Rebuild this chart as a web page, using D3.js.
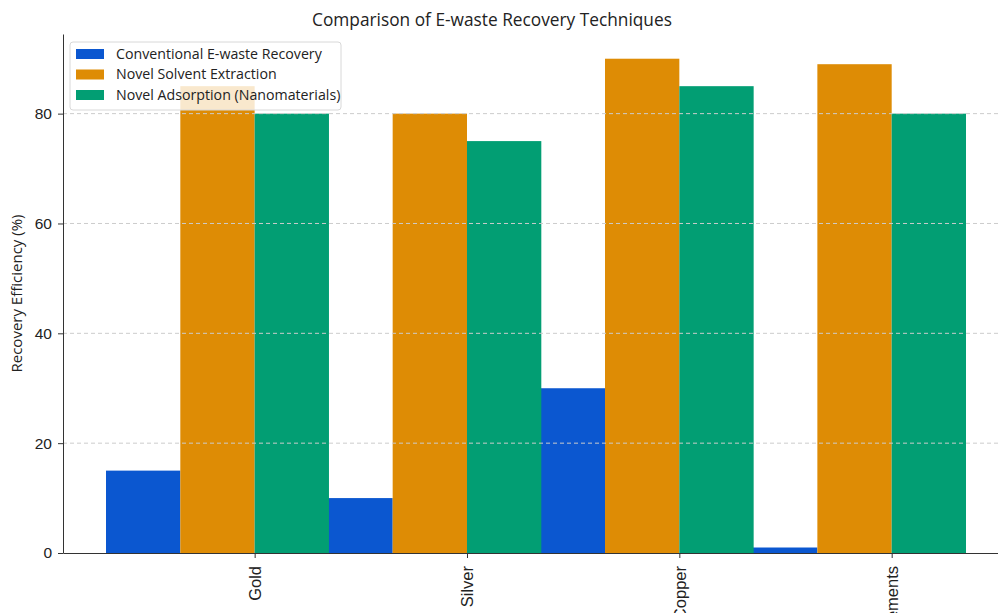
<!DOCTYPE html>
<html>
<head>
<meta charset="utf-8">
<script src="https://cdn.jsdelivr.net/npm/d3@7"></script>
<style>
  body { margin: 0; background: #fff; }
  svg { display: block; font-family: "Open Sans", sans-serif; }
  .grid line { stroke: #cccccc; stroke-dasharray: 4,3; stroke-width: 1; }
  .axis text { font-size: 15.5px; fill: #222; }
  .axis path, .axis line { stroke: #333; }
  .xaxis text { font-size: 16.5px; }
</style>
</head>
<body>
<div id="chart"></div>
<script>
// data
var metals = ["Gold", "Silver", "Copper", "Rare Earth Elements"];
var seriesNames = ["Conventional E-waste Recovery", "Novel Solvent Extraction", "Novel Adsorption (Nanomaterials)"];
var conventional = [15, 10, 30, 1];
var solvent = [85, 80, 90, 89];
var adsorption = [80, 75, 85, 80];
var yTicks = [0, 20, 40, 60, 80];
var colors = ["#0b57d0", "#de8c05", "#029e73"];

var seriesValues = [conventional, solvent, adsorption];

var width = 998, height = 613;
var margin = {left: 63, right: -11, top: 34, bottom: 60};

var svg = d3.select("#chart")
  .append("svg")
  .attr("width", width)
  .attr("height", height);

var plotW = width - margin.left - margin.right,
    plotH = height - margin.top - margin.bottom;

// bar positions: the first series sits 1.5 widths left of the tick
var barW = 0.35;
var offsets = [-1.5, -0.5, 0.5];
var lo = -2 * barW, hi = metals.length - 1 + barW;
var pad = 0.05 * (hi - lo);
var xLin = d3.scaleLinear()
  .domain([lo - pad, hi + pad])
  .range([0, plotW]);

var yScale = d3.scaleLinear()
  .domain([0, 94.5])
  .range([plotH, 0]);

var g = svg.append("g")
  .attr("transform", "translate(" + margin.left + "," + margin.top + ")");

// bars, series by series
seriesValues.forEach(function(vals, s) {
  g.append("g")
    .selectAll("rect")
    .data(vals)
    .enter()
    .append("rect")
    .attr("x", function(d, i) { return xLin(i + offsets[s] * barW - barW / 2); })
    .attr("width", function() { return xLin(barW) - xLin(0); })
    .attr("y", function(d) { return yScale(d); })
    .attr("height", function(d) { return plotH - yScale(d); })
    .attr("fill", colors[s]);
});

// grid on top of the bars
g.append("g")
  .attr("class", "grid")
  .selectAll("line")
  .data(yTicks.slice(1))
  .enter()
  .append("line")
  .attr("x1", 0)
  .attr("x2", plotW)
  .attr("y1", function(d) { return yScale(d); })
  .attr("y2", function(d) { return yScale(d); });

// y axis
var yAxis = g.append("g")
  .attr("class", "axis")
  .call(d3.axisLeft(yScale).tickValues(yTicks).tickSize(5).tickPadding(6).tickSizeOuter(0));
yAxis.select(".domain").attr("stroke", "#444");

// x axis
var xAxis = g.append("g")
  .attr("class", "axis xaxis")
  .attr("transform", "translate(0," + plotH + ")")
  .call(d3.axisBottom(xLin).tickValues(d3.range(metals.length)).tickSize(5).tickSizeOuter(0)
    .tickFormat(function(i) { return metals[i]; }));
xAxis.select(".domain").attr("stroke", "#444");
xAxis.selectAll("text")
  .attr("transform", "rotate(-90)")
  .attr("text-anchor", "end")
  .attr("x", -13)
  .attr("y", 0)
  .attr("dy", "0.35em");

// axis label
svg.append("text")
  .attr("transform", "translate(22," + (margin.top + plotH / 2) + ") rotate(-90)")
  .attr("text-anchor", "middle")
  .style("font-size", "15px")
  .attr("fill", "#222")
  .text("Recovery Efficiency (%)");

// title
svg.append("text")
  .attr("x", 492)
  .attr("y", 26)
  .attr("text-anchor", "middle")
  .style("font-size", "17.3px")
  .attr("fill", "#222")
  .text("Comparison of E-waste Recovery Techniques");

// legend
var legend = svg.append("g")
  .attr("transform", "translate(70,42)");
legend.append("rect")
  .attr("width", 271)
  .attr("height", 68)
  .attr("rx", 3)
  .attr("fill", "#fff")
  .attr("fill-opacity", 0.8)
  .attr("stroke", "#d8d8d8");
var items = legend.selectAll(".item")
  .data(seriesNames)
  .enter()
  .append("g")
  .attr("transform", function(d, i) { return "translate(6," + (7 + i * 20.5) + ")"; });
items.append("rect")
  .attr("width", 28)
  .attr("height", 10)
  .attr("fill", function(d, i) { return colors[i]; });
items.append("text")
  .attr("x", 40)
  .attr("y", 5)
  .attr("dy", "0.35em")
  .style("font-size", "14.2px")
  .attr("fill", "#222")
  .text(function(d) { return d; });
</script>
</body>
</html>
